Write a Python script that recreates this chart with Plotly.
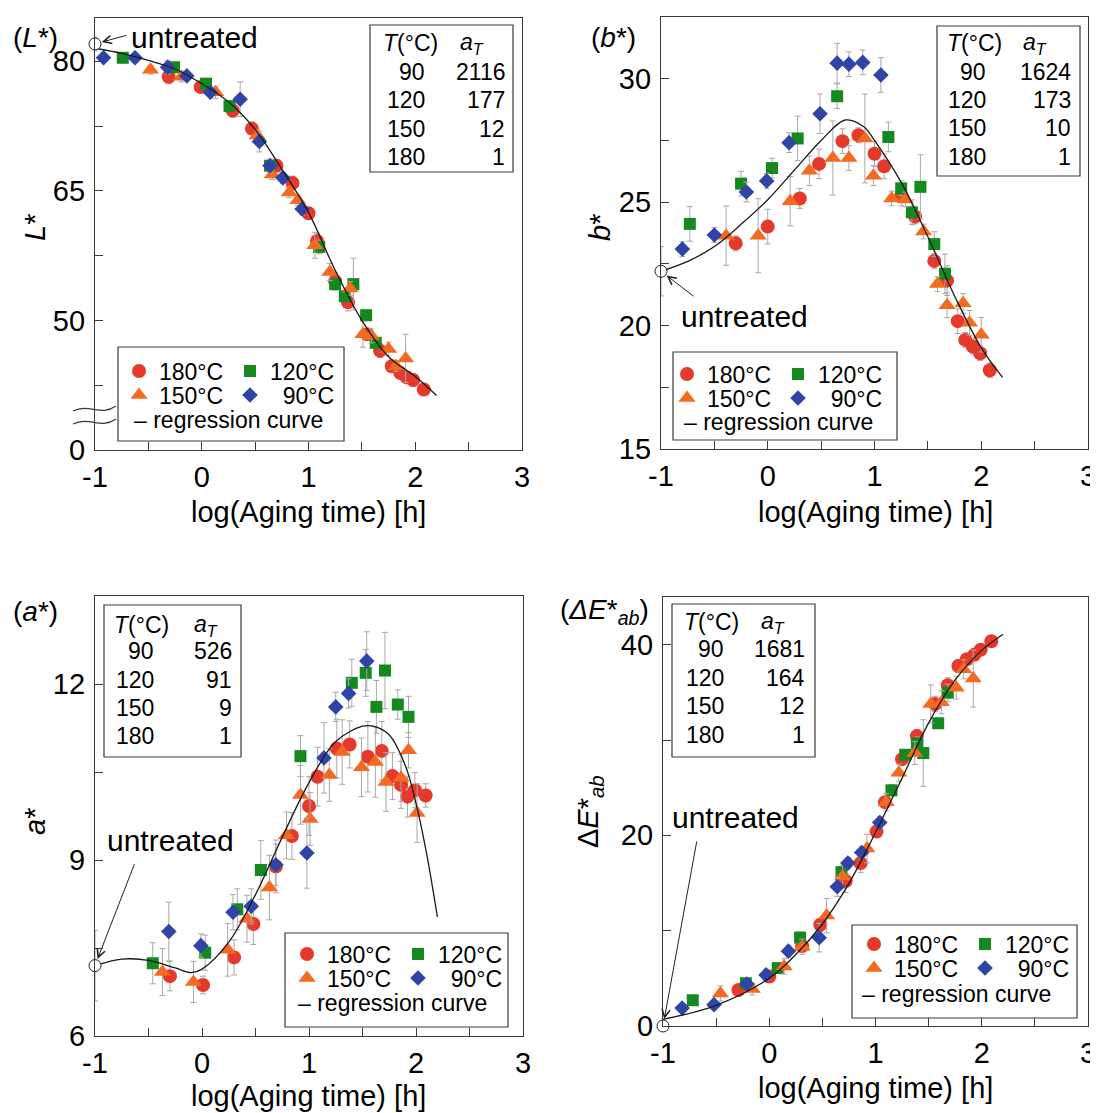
import plotly.graph_objects as go

W, H = 1098, 1113          # target picture size
OFF = 8                    # page body margin of the html page
FW, FH = W - OFF, H - OFF  # figure size
FONT = "Liberation Sans, Arial, sans-serif"

# ---------------- data ----------------
temps = [90, 120, 150, 180]
x_tickvals = [-1, 0, 1, 2, 3]
x_ticktext = ["-1", "0", "1", "2", "3"]
x_minor = [-0.5, 0.5, 1.5, 2.5]

# L* panel
L_tickvals = [35, 50, 65, 80]
L_ticktext = ["0", "50", "65", "80"]
L_minor = [42.5, 57.5, 72.5]
L_aT = [2116, 177, 12, 1]
L_untreated = 82.0
L_untreated_err = 0.8
L180_x = [-0.31, -0.01, 0.29, 0.47, 0.70, 0.85, 1.00, 1.08, 1.25, 1.37, 1.55, 1.67, 1.78, 1.86, 1.92, 1.98, 2.08]
L180_y = [78.2, 77.0, 74.3, 72.2, 67.9, 65.9, 62.4, 59.2, 54.5, 52.1, 48.4, 46.5, 44.7, 43.9, 43.4, 43.1, 42.0]
L180_e = [0.8, 0.6, 0.8, 0.7, 0.7, 0.8, 0.5, 0.9, 1.0, 1.0, 0.6, 0.8, 0.7, 0.6, 0.6, 0.7, 0.5]
L120_x = [-0.74, -0.26, 0.04, 0.26, 0.64, 1.10, 1.25, 1.34, 1.42, 1.54, 1.63]
L120_y = [80.4, 79.3, 77.4, 74.8, 67.9, 58.5, 54.2, 52.8, 54.2, 50.6, 47.4]
L120_e = [0.6, 0.5, 0.5, 0.5, 0.5, 0.8, 0.6, 0.6, 3.0, 0.5, 0.6]
L150_x = [-0.48, -0.19, 0.13, 0.52, 0.66, 0.82, 0.90, 1.06, 1.20, 1.39, 1.51, 1.59, 1.75, 1.82, 1.91]
L150_y = [79.0, 78.2, 76.4, 71.4, 66.9, 64.8, 63.9, 58.7, 55.6, 53.7, 48.4, 48.2, 46.7, 44.7, 45.6]
L150_e = [0.5, 0.6, 0.7, 0.6, 0.6, 0.6, 0.6, 1.5, 1.0, 0.8, 1.5, 0.8, 0.8, 0.6, 2.8]
L90_x = [-0.92, -0.625, -0.32, -0.14, 0.08, 0.36, 0.54, 0.64, 0.76, 0.94]
L90_y = [80.4, 80.4, 79.3, 78.3, 76.4, 75.6, 70.7, 67.9, 66.5, 62.9]
L90_e = [0.4, 0.4, 0.8, 0.4, 0.5, 2.0, 1.2, 0.8, 0.6, 0.7]
Lfit_x = [-1, -0.75, -0.5, -0.25, 0, 0.25, 0.5, 0.75, 1.0, 1.25, 1.5, 1.75, 2.0, 2.2]
Lfit_y = [81.5, 80.9, 80.1, 79.1, 77.4, 75.3, 72.1, 67.5, 62.5, 55.8, 50.0, 45.8, 43.5, 41.3]

# b* panel
b_tickvals = [15, 20, 25, 30]
b_ticktext = ["15", "20", "25", "30"]
b_minor = [17.5, 22.5, 27.5]
b_aT = [1624, 173, 10, 1]
b_untreated = 22.2
b_untreated_err = 1.0
b180_x = [-0.30, 0.0, 0.30, 0.48, 0.70, 0.85, 1.00, 1.09, 1.25, 1.38, 1.56, 1.68, 1.78, 1.85, 1.92, 1.99, 2.08]
b180_y = [23.33, 24.01, 25.15, 26.55, 27.47, 27.71, 26.96, 26.45, 25.25, 24.42, 22.62, 21.82, 20.18, 19.42, 19.15, 18.88, 18.19]
b180_e = [0.3, 0.7, 0.4, 0.6, 0.5, 0.3, 0.5, 0.5, 0.4, 0.3, 0.3, 0.6, 0.5, 0.3, 0.3, 0.3, 0.3]
b120_x = [-0.73, -0.25, 0.04, 0.28, 0.65, 1.13, 1.25, 1.35, 1.43, 1.56, 1.66]
b120_y = [24.12, 25.75, 26.38, 27.58, 29.29, 27.64, 25.56, 24.59, 25.62, 23.30, 22.10]
b120_e = [0.7, 0.5, 0.4, 0.9, 0.5, 0.6, 0.3, 0.5, 1.3, 0.5, 0.8]
b150_x = [-0.39, -0.09, 0.21, 0.39, 0.61, 0.76, 0.91, 0.99, 1.16, 1.29, 1.46, 1.59, 1.68, 1.83, 1.89, 2.00]
b150_y = [23.64, 23.64, 25.04, 26.27, 26.79, 26.79, 27.58, 26.07, 25.15, 25.11, 23.81, 21.68, 20.82, 20.90, 20.11, 19.63]
b150_e = [1.2, 1.5, 1.0, 0.6, 1.5, 0.5, 1.8, 0.4, 0.3, 0.3, 0.3, 0.3, 0.5, 0.4, 0.5, 0.7]
b90_x = [-0.80, -0.50, -0.20, -0.01, 0.20, 0.49, 0.65, 0.76, 0.89, 1.06]
b90_y = [23.10, 23.67, 25.41, 25.86, 27.41, 28.58, 30.63, 30.59, 30.66, 30.15]
b90_e = [0.3, 0.3, 0.4, 0.3, 0.4, 0.8, 0.8, 0.5, 0.5, 0.7]
bfit_x = [-1, -0.75, -0.5, -0.25, 0, 0.25, 0.5, 0.73, 0.9, 1.0, 1.25, 1.5, 1.75, 2.0, 2.2]
bfit_y = [22.2, 22.6, 23.2, 24.1, 25.1, 26.3, 27.5, 28.33, 28.05, 27.5, 25.8, 23.6, 21.2, 19.1, 17.9]

# a* panel
a_tickvals = [6, 9, 12]
a_ticktext = ["6", "9", "12"]
a_minor = [7.5, 10.5]
a_aT = [526, 91, 9, 1]
a_untreated = 7.2
a_untreated_err = 0.6
a180_x = [-0.30, 0.01, 0.30, 0.48, 0.69, 0.84, 1.00, 1.08, 1.26, 1.38, 1.55, 1.68, 1.78, 1.86, 1.92, 1.99, 2.09]
a180_y = [7.02, 6.87, 7.34, 7.91, 8.89, 9.41, 9.92, 10.42, 10.90, 10.97, 10.76, 10.86, 10.43, 10.28, 10.08, 10.19, 10.10]
a180_e = [0.25, 0.15, 0.3, 0.35, 0.45, 0.4, 0.5, 0.5, 0.5, 0.4, 0.6, 0.5, 0.4, 0.4, 0.35, 0.3, 0.2]
a120_x = [-0.46, 0.03, 0.33, 0.55, 0.92, 1.40, 1.53, 1.63, 1.71, 1.83, 1.93]
a120_y = [7.24, 7.42, 8.16, 8.83, 10.77, 12.02, 12.19, 11.61, 12.23, 11.65, 11.44]
a120_e = [0.35, 0.3, 0.35, 0.5, 0.35, 0.4, 0.4, 0.45, 0.65, 0.25, 0.35]
a150_x = [-0.37, -0.08, 0.24, 0.42, 0.63, 0.79, 0.92, 1.01, 1.19, 1.31, 1.49, 1.62, 1.72, 1.86, 1.93, 2.01]
a150_y = [7.09, 6.92, 7.47, 8.00, 8.53, 9.42, 10.11, 9.70, 10.45, 10.84, 10.58, 10.67, 10.33, 10.40, 10.87, 9.80]
a150_e = [0.4, 0.35, 0.45, 0.4, 0.55, 0.4, 0.5, 0.45, 0.45, 0.55, 0.5, 0.6, 0.5, 0.4, 0.3, 0.5]
a90_x = [-0.31, -0.01, 0.29, 0.46, 0.69, 0.98, 1.14, 1.25, 1.37, 1.54]
a90_y = [7.78, 7.54, 8.11, 8.21, 8.92, 9.12, 10.74, 11.61, 11.84, 12.39]
a90_e = [0.5, 0.2, 0.3, 0.3, 0.35, 0.6, 0.6, 0.25, 0.25, 0.5]
afit_x = [-1, -0.75, -0.5, -0.25, -0.1, 0, 0.25, 0.5, 0.75, 1.0, 1.25, 1.5, 1.6, 1.75, 1.9, 2.0, 2.1, 2.2]
afit_y = [7.2, 7.31, 7.29, 7.16, 7.08, 7.14, 7.6, 8.41, 9.39, 10.32, 11.02, 11.28, 11.28, 11.13, 10.61, 9.97, 9.1, 8.03]

# Delta E*ab panel
E_tickvals = [0, 20, 40]
E_ticktext = ["0", "20", "40"]
E_minor = [10, 30]
E_aT = [1681, 164, 12, 1]
E_untreated = 0.0
E180_x = [-0.29, 0.0, 0.31, 0.48, 0.72, 0.86, 1.01, 1.09, 1.25, 1.39, 1.56, 1.68, 1.78, 1.86, 1.93, 1.99, 2.09]
E180_y = [3.77, 5.19, 8.38, 10.62, 15.2, 17.09, 20.39, 23.48, 27.99, 30.41, 33.78, 35.74, 37.76, 38.47, 38.93, 39.47, 40.36]
E180_e = [0.5, 0.6, 0.6, 0.7, 1.2, 1.0, 0.5, 0.6, 0.6, 0.7, 0.8, 0.8, 0.7, 0.5, 0.5, 0.5, 0.4]
E120_x = [-0.72, -0.22, 0.08, 0.29, 0.68, 1.15, 1.28, 1.39, 1.45, 1.59, 1.68]
E120_y = [2.7, 4.48, 6.07, 9.27, 16.13, 24.72, 28.45, 29.63, 28.63, 31.76, 34.96]
E120_e = [0.4, 0.5, 0.4, 0.6, 0.6, 0.6, 0.5, 0.7, 3.5, 0.5, 0.9]
E150_x = [-0.46, -0.16, 0.14, 0.31, 0.54, 0.69, 0.92, 1.10, 1.22, 1.37, 1.52, 1.62, 1.76, 1.83, 1.92]
E150_y = [3.41, 3.87, 6.25, 8.31, 11.58, 15.67, 18.61, 23.48, 26.57, 28.63, 33.78, 33.96, 35.49, 37.41, 36.45]
E150_e = [0.8, 0.6, 0.8, 0.8, 1.8, 1.2, 1.5, 0.9, 0.9, 1.2, 2.0, 1.2, 1.2, 1.0, 3.0]
E90_x = [-0.82, -0.52, -0.21, -0.03, 0.18, 0.47, 0.64, 0.74, 0.87, 1.04]
E90_y = [1.88, 2.24, 4.4, 5.36, 7.85, 9.27, 14.6, 17.09, 18.2, 21.35]
E90_e = [0.4, 0.4, 0.3, 0.6, 0.6, 1.5, 1.0, 0.6, 0.6, 0.6]
Efit_x = [-1, -0.5, 0, 0.25, 0.5, 0.75, 1.0, 1.25, 1.5, 1.75, 2.0, 2.2]
Efit_y = [0.7, 2.17, 5.0, 7.5, 10.7, 14.96, 20.3, 26.0, 31.8, 36.3, 39.4, 41.1]

# ---------------- styling ----------------
RED, GREEN, ORANGE, BLUE = "#E5392B", "#13891F", "#F36A20", "#2E44A6"
FRAME = "#3a3a3a"
ERRC = "#a8a8a8"


def fx(p):
    return (p - OFF) / FW


def fy(p):
    return 1 - (p - OFF) / FH


fig = go.Figure()

# panel frames in target pixels: left, top, right, bottom
panels = [
    dict(key="", box=(95, 18, 522, 450), yr=[35, 85], yt=(L_tickvals, L_ticktext, L_minor)),
    dict(key="2", box=(661, 17, 1088, 449), yr=[15, 32.5], yt=(b_tickvals, b_ticktext, b_minor)),
    dict(key="3", box=(95, 596, 523, 1036), yr=[6, 13.5], yt=(a_tickvals, a_ticktext, a_minor)),
    dict(key="4", box=(663, 597, 1088, 1026), yr=[0, 45], yt=(E_tickvals, E_ticktext, E_minor)),
]

for p in panels:
    l, t, r, b = p["box"]
    k = p["key"]
    common = dict(showline=True, mirror=True, linecolor=FRAME, linewidth=1.3,
                  ticks="inside", ticklen=8, tickcolor=FRAME, tickwidth=1,
                  showgrid=False, zeroline=False, automargin=False,
                  tickfont=dict(family=FONT, size=29, color="black"))
    fig.update_layout(**{
        "xaxis" + k: dict(domain=[fx(l), fx(r)], range=[-1, 3], anchor="y" + k,
                          tickmode="array", tickvals=x_tickvals, ticktext=x_ticktext,
                          minor=dict(tickmode="array", tickvals=x_minor, ticks="inside",
                                     ticklen=8, tickcolor=FRAME, tickwidth=1),
                          ticklabelstandoff=1, **common),
        "yaxis" + k: dict(domain=[fy(b), fy(t)], range=p["yr"], anchor="x" + k,
                          tickmode="array", tickvals=p["yt"][0], ticktext=p["yt"][1],
                          minor=dict(tickmode="array", tickvals=p["yt"][2], ticks="inside",
                                     ticklen=8, tickcolor=FRAME, tickwidth=1),
                          ticklabelstandoff=3, **common),
    })

series_style = [
    ("180°C", RED, "circle", 14),
    ("120°C", GREEN, "square", 12),
    ("150°C", ORANGE, "triangle-up", 15),
    ("\u200790°C", BLUE, "diamond", 12),
]

panel_data = [
    ([(L180_x, L180_y, L180_e), (L120_x, L120_y, L120_e), (L150_x, L150_y, L150_e), (L90_x, L90_y, L90_e)],
     (Lfit_x, Lfit_y), L_untreated, L_untreated_err),
    ([(b180_x, b180_y, b180_e), (b120_x, b120_y, b120_e), (b150_x, b150_y, b150_e), (b90_x, b90_y, b90_e)],
     (bfit_x, bfit_y), b_untreated, b_untreated_err),
    ([(a180_x, a180_y, a180_e), (a120_x, a120_y, a120_e), (a150_x, a150_y, a150_e), (a90_x, a90_y, a90_e)],
     (afit_x, afit_y), a_untreated, a_untreated_err),
    ([(E180_x, E180_y, E180_e), (E120_x, E120_y, E120_e), (E150_x, E150_y, E150_e), (E90_x, E90_y, E90_e)],
     (Efit_x, Efit_y), E_untreated, 0.0),
]

# legend rows positions (target pixels)
legend_px = [
    dict(x=119, r1=371, r2=395, r3=420, box=(118, 347, 344, 441), dash_x=132),
    dict(x=667, r1=374, r2=398, r3=422, box=(673, 352, 897, 440), dash_x=682),
    dict(x=287, r1=954, r2=978, r3=1003, box=(285, 933, 508, 1027), dash_x=296),
    dict(x=854, r1=944, r2=968, r3=994, box=(852, 925, 1077, 1018), dash_x=860),
]

for i, (p, (series, fit, untreated, untreated_err), lg) in enumerate(zip(panels, panel_data, legend_px)):
    k = p["key"]
    xa, ya = "x" + k, "y" + k
    leg_row1 = "legend" if i == 0 else "legend%d" % (2 * i + 1)
    leg_row2 = "legend%d" % (2 * i + 2)
    for j, ((sx, sy, se), (name, col, sym, size)) in enumerate(zip(series, series_style)):
        fig.add_trace(go.Scatter(
            x=sx, y=sy, mode="markers", name=name, xaxis=xa, yaxis=ya,
            legend=leg_row1 if j < 2 else leg_row2,
            marker=dict(color=col, symbol=sym, size=size, line=dict(width=0)),
            error_y=dict(type="data", array=se, color=ERRC, thickness=1, width=3),
        ))
    fig.add_trace(go.Scatter(
        x=fit[0], y=fit[1], mode="lines", xaxis=xa, yaxis=ya, showlegend=False,
        line=dict(color="#1a1a1a", width=1.3, shape="spline", smoothing=1.0),
    ))
    fig.add_trace(go.Scatter(
        x=[-1], y=[untreated], mode="markers", xaxis=xa, yaxis=ya, showlegend=False,
        cliponaxis=False,
        marker=dict(color="white", symbol="circle", size=12, line=dict(color="#222", width=1)),
        error_y=dict(type="data", array=[untreated_err], color=ERRC, thickness=1, width=3,
                     visible=untreated_err > 0),
    ))
    legfont = dict(family=FONT, size=23, color="black")
    for name, yrow in ((leg_row1, lg["r1"]), (leg_row2, lg["r2"])):
        fig.update_layout(**{name: dict(
            orientation="h", x=fx(lg["x"]), y=fy(yrow), xanchor="left", yanchor="middle",
            bgcolor="rgba(0,0,0,0)", borderwidth=0, font=legfont,
            entrywidth=66, entrywidthmode="pixels", itemclick=False,
        )})
    bl, bt, br, bb = lg["box"]
    fig.add_shape(type="rect", xref="paper", yref="paper", x0=fx(bl), x1=fx(br), y0=fy(bb), y1=fy(bt),
                  line=dict(color=FRAME, width=1.2), fillcolor="rgba(0,0,0,0)")
    fig.add_annotation(xref="paper", yref="paper", x=fx(lg["dash_x"]), y=fy(lg["r3"]),
                       xanchor="left", yanchor="middle", showarrow=False,
                       text="\u2013 regression curve", font=legfont)

# aT tables
tables = [
    dict(aT=L_aT, box=(370, 25, 513, 172), hy=43, rows=[72, 100, 129, 157], tr=427, ar=507, hc=(410, 472)),
    dict(aT=b_aT, box=(937, 26, 1080, 176), hy=43, rows=[72, 100, 128, 157], tr=988, ar=1073, hc=(974, 1035)),
    dict(aT=a_aT, box=(104, 605, 241, 757), hy=625, rows=[651, 680, 708, 736], tr=156, ar=234, hc=(141, 206)),
    dict(aT=E_aT, box=(672, 604, 815, 757), hy=622, rows=[649, 678, 706, 735], tr=726, ar=807, hc=(711, 773)),
]
tfont = dict(family=FONT, size=23, color="black")
for tb in tables:
    bl, bt, br, bb = tb["box"]
    fig.add_shape(type="rect", xref="paper", yref="paper", x0=fx(bl), x1=fx(br), y0=fy(bb), y1=fy(bt),
                  line=dict(color=FRAME, width=1.2), fillcolor="white")
    fig.add_annotation(xref="paper", yref="paper", x=fx(tb["hc"][0]), y=fy(tb["hy"]), showarrow=False,
                       xanchor="center", yanchor="middle", text="<i>T</i>(°C)", font=tfont)
    fig.add_annotation(xref="paper", yref="paper", x=fx(tb["hc"][1]), y=fy(tb["hy"]), showarrow=False,
                       xanchor="center", yanchor="middle", text="<i>a<sub>T</sub></i>", font=tfont)
    for tval, aval, ry in zip(temps, tb["aT"], tb["rows"]):
        fig.add_annotation(xref="paper", yref="paper", x=fx(tb["tr"]), y=fy(ry), xanchor="right",
                           yanchor="middle", showarrow=False, text=str(tval), font=tfont)
        fig.add_annotation(xref="paper", yref="paper", x=fx(tb["ar"]), y=fy(ry), xanchor="right",
                           yanchor="middle", showarrow=False, text=str(aval), font=tfont)

# panel labels, axis titles
big = dict(family=FONT, size=28, color="black")
title_font = dict(family=FONT, size=29, color="black")
labels = [
    ("(<i>L</i>*)", 35, 37),
    ("(<i>b</i>*)", 613, 37),
    ("(<i>a</i>*)", 35, 612),
    ("(<i>ΔE</i>*<sub><i>ab</i></sub>)", 604, 612),
]
for txt, px, py in labels:
    fig.add_annotation(xref="paper", yref="paper", x=fx(px), y=fy(py), showarrow=False, text=txt,
                       xanchor="center", yanchor="middle", font=big)

ytitles = [
    ("<i>L</i>*", 35, 228),
    ("<i>b</i>*", 600, 228),
    ("<i>a</i>*", 35, 822),
    ("Δ<i>E</i>*<sub><i>ab</i></sub>", 590, 812),
]
for txt, px, py in ytitles:
    fig.add_annotation(xref="paper", yref="paper", x=fx(px), y=fy(py), showarrow=False, text=txt,
                       xanchor="center", yanchor="middle", textangle=-90, font=title_font)

for px, py in [(308, 512), (875, 512), (308, 1096), (875, 1088)]:
    fig.add_annotation(xref="paper", yref="paper", x=fx(px), y=fy(py), showarrow=False,
                       xanchor="center", yanchor="middle", text="log(Aging time) [h]", font=title_font)

# untreated annotations
untreated_notes = [
    ("", L_untreated, 33, -9, (194, 37)),
    ("2", b_untreated, 34, 26, (744, 316)),
    ("3", a_untreated, 40, -103, (170, 840)),
    ("4", E_untreated, 34, -186, (735, 817)),
]
for k, yv, axp, ayp, (tx, ty) in untreated_notes:
    fig.add_annotation(xref="x" + k, yref="y" + k, x=-1, y=yv, ax=axp, ay=ayp, text="",
                       showarrow=True, arrowhead=5, arrowsize=1.6, arrowwidth=1, arrowcolor="#222",
                       standoff=7)
    fig.add_annotation(xref="paper", yref="paper", x=fx(tx), y=fy(ty), showarrow=False,
                       xanchor="center", yanchor="middle",
                       text="untreated", font=dict(family=FONT, size=30, color="black"))

# axis break marks on L* axis
for off in (0, 13):
    y0 = 409 + off
    path = "M {:.5f},{:.5f} C {:.5f},{:.5f} {:.5f},{:.5f} {:.5f},{:.5f}".format(
        fx(73), fy(y0 + 2), fx(90), fy(y0 - 6), fx(100), fy(y0 + 8), fx(116), fy(y0 - 3))
    fig.add_shape(type="path", xref="paper", yref="paper", path=path,
                  line=dict(color=FRAME, width=1.2))

fig.update_layout(width=FW, height=FH, autosize=False,
                  margin=dict(l=0, r=0, t=0, b=0, pad=0, autoexpand=False),
                  paper_bgcolor="white", plot_bgcolor="white",
                  font=dict(family=FONT, color="black"))

fig.write_html("out.html")
